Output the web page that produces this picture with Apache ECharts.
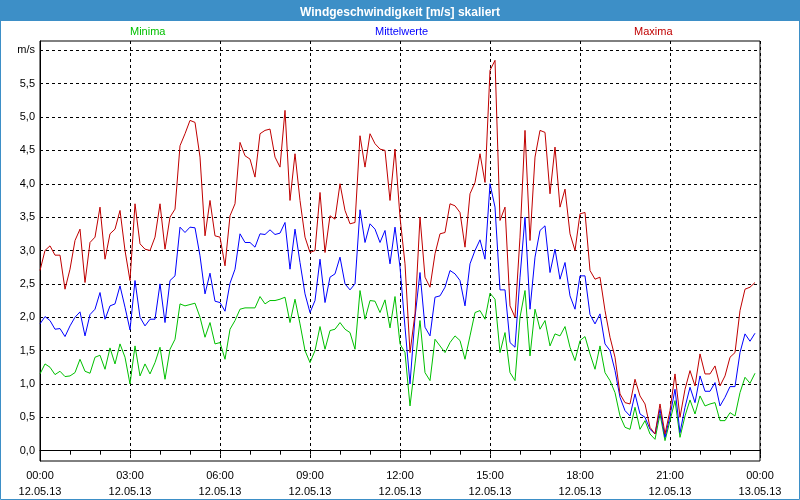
<!DOCTYPE html>
<html>
<head>
<meta charset="utf-8">
<script src="https://cdn.jsdelivr.net/npm/echarts@6/dist/echarts.min.js"></script>
<style>
html,body{margin:0;padding:0;background:#fff;}
#c{width:800px;height:500px;}
</style>
</head>
<body>
<div id="c"></div>
<script>
// ---- data (10-minute steps starting 12.05.13 00:00) ----
const startMinute = 0;
const stepMinutes = 10;
const tickTimes = ['00:00','03:00','06:00','09:00','12:00','15:00','18:00','21:00','00:00'];
const tickDates = ['12.05.13','12.05.13','12.05.13','12.05.13','12.05.13','12.05.13','12.05.13','12.05.13','13.05.13'];
const yTicks = [0,0.5,1,1.5,2,2.5,3,3.5,4,4.5,5,5.5,6];

const minima = [1.15,1.3,1.25,1.14,1.19,1.11,1.12,1.17,1.37,1.19,1.16,1.4,1.43,1.22,1.54,1.3,1.6,1.4,1.0,1.57,
1.12,1.3,1.15,1.32,1.55,1.07,1.52,1.67,2.2,2.17,2.19,2.21,2.0,1.7,1.92,1.6,1.62,1.37,1.82,1.95,
2.12,2.14,2.14,2.14,2.31,2.2,2.25,2.25,2.27,2.3,1.92,2.27,1.9,1.5,1.32,1.5,1.86,1.52,1.8,1.82,
1.92,1.82,1.77,1.52,2.4,1.97,2.25,2.24,2.07,2.26,1.84,2.31,1.6,1.47,0.67,1.3,1.95,1.17,1.05,1.67,
1.57,1.47,1.62,1.72,1.65,1.37,1.72,2.07,2.1,1.97,2.36,2.27,1.47,1.77,1.17,1.05,2.0,2.4,1.42,2.12,
1.82,1.95,1.57,1.75,1.72,1.86,1.55,1.35,1.65,1.71,1.45,1.22,1.57,1.17,1.05,0.87,0.52,0.35,0.32,0.65,
0.32,0.45,0.25,0.17,0.55,0.15,0.45,0.75,0.2,0.52,0.76,0.55,0.82,0.67,0.7,0.72,0.45,0.45,0.57,0.52,
0.87,1.1,1.01,1.16];

const mittelwerte = [1.9,2.01,1.95,1.82,1.83,1.71,1.87,2.0,2.08,1.72,2.04,2.12,2.37,1.97,2.17,2.2,2.47,2.15,1.81,2.55,
2.0,1.87,1.97,1.97,2.5,1.92,2.55,2.62,3.35,3.27,3.35,3.34,2.92,2.35,2.66,2.24,2.22,2.09,2.51,2.72,
3.25,3.12,3.12,3.05,3.25,3.24,3.31,3.24,3.26,3.42,2.72,3.32,2.82,2.35,2.07,2.25,2.87,2.22,2.6,2.65,
2.9,2.5,2.41,2.5,3.61,3.12,3.4,3.32,3.12,3.3,2.8,3.35,2.75,1.85,1.0,2.0,2.67,1.85,1.72,2.3,
2.32,2.45,2.7,2.65,2.55,2.17,2.8,3.0,3.16,2.87,4.0,3.65,2.41,2.41,1.62,1.55,2.6,3.5,2.12,2.9,
3.3,3.37,2.67,3.02,2.57,2.82,2.32,2.12,2.62,2.62,2.04,1.9,2.05,1.6,1.5,1.2,0.8,0.6,0.52,0.85,
0.55,0.5,0.32,0.25,0.62,0.2,0.52,0.92,0.27,0.65,0.95,0.72,1.12,0.89,0.89,1.02,0.67,0.8,0.96,0.96,
1.47,1.75,1.64,1.76];

const maxima = [2.7,3.0,3.07,2.93,2.93,2.42,2.72,3.15,3.32,2.52,3.12,3.2,3.65,2.87,3.25,3.32,3.6,3.0,2.55,3.7,
3.1,3.02,3.0,3.2,3.7,3.02,3.5,3.62,4.57,4.75,4.95,4.92,4.4,3.22,3.75,3.22,3.2,2.77,3.52,3.7,
4.62,4.42,4.37,4.1,4.75,4.8,4.82,4.4,4.25,5.1,3.75,4.45,3.75,3.2,2.97,3.0,3.87,2.97,3.52,3.47,
4.0,3.6,3.4,3.42,4.72,4.25,4.75,4.6,4.52,4.5,3.75,4.52,3.5,2.8,1.47,2.05,3.5,2.6,2.45,2.95,
3.25,3.27,3.7,3.67,3.57,3.05,3.85,4.02,4.45,4.02,5.7,5.85,3.45,3.65,2.17,2.0,3.2,4.8,3.15,4.4,
4.8,4.77,3.85,4.55,3.65,3.92,3.25,3.0,3.55,3.57,2.7,2.57,2.6,2.1,1.7,1.4,0.85,0.72,0.7,1.07,
0.82,0.7,0.35,0.25,0.7,0.25,0.6,1.15,0.5,0.92,1.2,0.97,1.45,1.15,1.15,1.27,0.97,1.12,1.4,1.47,
2.1,2.42,2.45,2.52];

function toPairs(arr){ return arr.map((v,i)=>[startMinute + i*stepMinutes, v]); }

const FONT = 'Liberation Sans';
function legendAt(left, name, color){
  return {left:left, top:25, padding:0, icon:'none', itemWidth:0, itemGap:0, selectedMode:false,
          data:[{name:name, textStyle:{color:color}}], textStyle:{fontSize:11, fontFamily:FONT}};
}
const chart = echarts.init(document.getElementById('c'), null, {renderer:'canvas'});
chart.setOption({
  animation:false,
  backgroundColor:'#ffffff',
  textStyle:{fontFamily:FONT},
  title:{
    text:'Windgeschwindigkeit [m/s] skaliert',
    left:'center', top:2,
    textStyle:{color:'#ffffff', fontWeight:'bold', fontSize:12, fontFamily:FONT}
  },
  graphic:[
    {type:'rect', z:-1, silent:true, shape:{x:0,y:0,width:800,height:21}, style:{fill:'#3d8fc7'}},
    {type:'rect', z:100, silent:true, shape:{x:0.5,y:0.5,width:799,height:499}, style:{fill:null, stroke:'#3d8fc7', lineWidth:1}}
  ],
  legend:[
    legendAt(125, 'Minima', '#00c000'),
    legendAt(370, 'Mittelwerte', '#0000ff'),
    legendAt(629, 'Maxima', '#c00000')
  ],
  grid:{left:40, right:40, top:41, bottom:39, show:true, borderColor:'#000', borderWidth:1, backgroundColor:'#ffffff'},
  xAxis:{
    type:'value', min:0, max:1440, interval:180,
    axisLine:{lineStyle:{color:'#000'}},
    axisTick:{show:true, length:4, lineStyle:{color:'#000'}},
    minorTick:{show:true, splitNumber:3, length:4, lineStyle:{color:'#000'}},
    splitLine:{show:true, lineStyle:{color:'#000', type:[3,3], width:1}},
    axisLabel:{
      color:'#000', fontSize:11, margin:7, lineHeight:16, fontFamily:FONT,
      formatter:function(v){ const k=Math.round(v/180); return tickTimes[k]+'\n'+tickDates[k]; }
    }
  },
  yAxis:{
    type:'value', min:-0.155, max:6.14,
    axisLine:{show:true, lineStyle:{color:'#000'}},
    axisTick:{show:false, customValues:yTicks},
    splitLine:{show:true, lineStyle:{color:'#000', type:[3,3], width:1}},
    axisLabel:{
      customValues:yTicks, color:'#000', fontSize:11, margin:5, fontFamily:FONT,
      formatter:function(v){ return Math.abs(v-6)<1e-9 ? 'm/s' : v.toFixed(1).replace('.',','); }
    }
  },
  series:[
    {name:'Minima', type:'line', data:toPairs(minima), showSymbol:false, symbol:'none', lineStyle:{color:'#00c000', width:1}, itemStyle:{color:'#00c000'}},
    {name:'Mittelwerte', type:'line', data:toPairs(mittelwerte), showSymbol:false, symbol:'none', lineStyle:{color:'#0000ff', width:1}, itemStyle:{color:'#0000ff'}},
    {name:'Maxima', type:'line', data:toPairs(maxima), showSymbol:false, symbol:'none', lineStyle:{color:'#c00000', width:1}, itemStyle:{color:'#c00000'}}
  ]
});
</script>
</body>
</html>
